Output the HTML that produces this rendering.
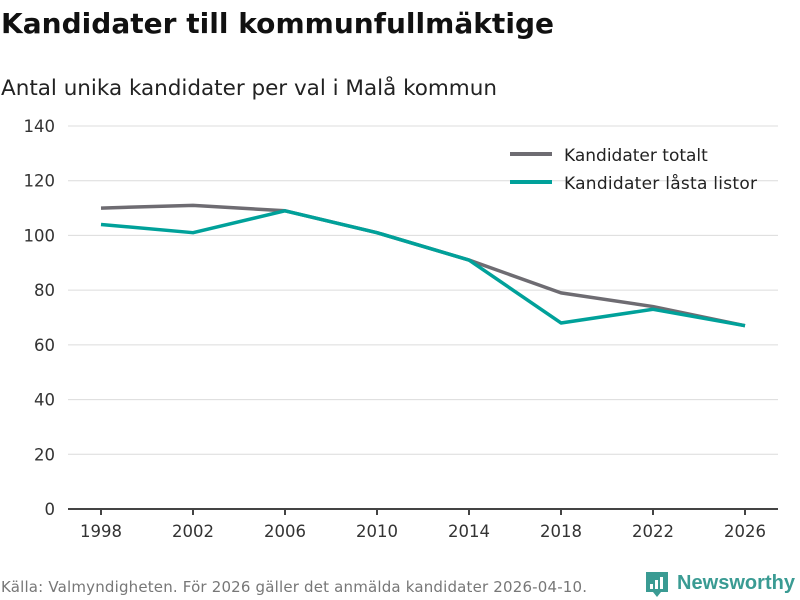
<!DOCTYPE html>
<html><head><meta charset="utf-8"><style>
body{margin:0;background:#fff;font-family:"DejaVu Sans","Liberation Sans",sans-serif;}
#wrap{position:relative;width:800px;height:600px;overflow:hidden;}
</style></head><body>
<div id="wrap">
<svg id="chart" width="800" height="600" xmlns="http://www.w3.org/2000/svg">
<text x="1" y="33" font-size="28" font-weight="bold" fill="#111" textLength="553">Kandidater till kommunfullmäktige</text>
<text x="1" y="95" font-size="21.5" fill="#222" textLength="496">Antal unika kandidater per val i Malå kommun</text>
<g id="grid"></g><g id="xaxis"></g><g id="series"></g>
<g>
<line x1="510" y1="154" x2="552" y2="154" stroke="#6e6c72" stroke-width="4"/>
<text x="564" y="161" font-size="17" fill="#222">Kandidater totalt</text>
<line x1="510" y1="182" x2="552" y2="182" stroke="#00a19a" stroke-width="4"/>
<text x="564" y="189" font-size="17" fill="#222" textLength="193">Kandidater låsta listor</text>
</g>
<text x="1" y="592" font-size="15" fill="#777" textLength="586">Källa: Valmyndigheten. För 2026 gäller det anmälda kandidater 2026-04-10.</text>
<g>
<path d="M646 572 h22 v20 h-7 l-4 5 l-4 -5 h-7 z" fill="#3a9b93"/>
<rect x="650" y="584" width="3" height="5" fill="#fff"/><rect x="655" y="580" width="3" height="9" fill="#fff"/><rect x="660" y="577" width="3" height="12" fill="#fff"/>
<text x="677" y="589" font-size="20" font-weight="bold" fill="#3a9b93" font-family="Liberation Sans, sans-serif" textLength="118">Newsworthy</text>
</g>
</svg>
</div>
<script>
const years=[1998,2002,2006,2010,2014,2018,2022,2026];
const totalt=[110,111,109,101,91,79,74,67];
const lasta=[104,101,109,101,91,68,73,67];
const yTicks=[0,20,40,60,80,100,120,140];
const NS="http://www.w3.org/2000/svg";
const x=v=>101+(v-1998)*23;
const y=v=>509-v*(383/140);
function mk(t,a,p){const e=document.createElementNS(NS,t);for(const k in a)e.setAttribute(k,a[k]);p.appendChild(e);return e;}
const grid=document.getElementById('grid');
yTicks.forEach(t=>{
 if(t>0){const l=mk('line',{x1:68,x2:778,y1:y(t),y2:y(t),stroke:'#dcdcdc','stroke-width':1},grid);
 
 }
 const tx=mk('text',{x:55,y:y(t)+6,'font-size':16.5,fill:'#333','text-anchor':'end'},grid);tx.textContent=t;
 
 
});
const xa=document.getElementById('xaxis');
const ax=mk('line',{x1:68,x2:778,y1:509,y2:509,stroke:'#444','stroke-width':2},xa);


years.forEach(v=>{
 const tk=mk('line',{x1:x(v),x2:x(v),y1:509,y2:515,stroke:'#444','stroke-width':2},xa);
 
 
 const tx=mk('text',{x:x(v),y:537,'font-size':16.5,fill:'#333','text-anchor':'middle'},xa);tx.textContent=v;
 
 
});
const s=document.getElementById('series');
function line(d,c,n){const p=mk('polyline',{points:d.map((v,i)=>x(years[i])+','+y(v)).join(' '),fill:'none',stroke:c,'stroke-width':3.5,'stroke-linejoin':'round'},s);
 
 }
line(totalt,'#6e6c72','line-kandidater-totalt');
line(lasta,'#00a19a','line-kandidater-lasta-listor');
</script>
</body></html>
